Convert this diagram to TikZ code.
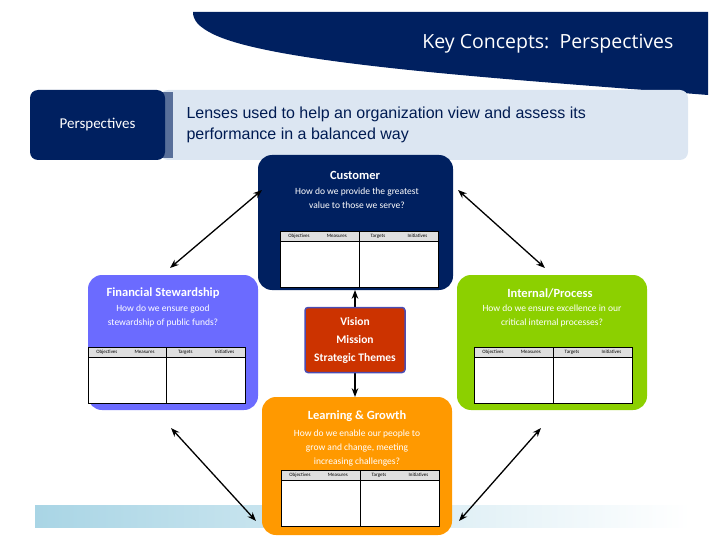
\documentclass[tikz,border=0pt]{standalone}
\usepackage{fontspec}
\setmainfont{Carlito}
\newfontfamily\titlefont{Open Sans}
\newfontfamily\arialfont{Liberation Sans}
\usetikzlibrary{arrows.meta}
\definecolor{navy}{HTML}{002060}
\definecolor{lens}{HTML}{DCE6F2}
\definecolor{violet}{HTML}{6B6BFF}
\definecolor{lime}{HTML}{8CD000}
\definecolor{brick}{HTML}{CC3300}
\definecolor{amber}{HTML}{FF9900}
\definecolor{barblue}{HTML}{A9D5E5}
\tikzset{
 card/.style={rounded corners=14pt, draw=none},
 ttl/.style={text=white, font=\fontsize{12.5}{14}\selectfont\bfseries},
 sub/.style={text=white, font=\fontsize{9.5}{14}\selectfont, align=center},
 tbl/.style={fill=white, draw=black, line width=0.8pt},
 hdr/.style={font=\fontsize{5}{6}\selectfont, inner sep=0pt},
 link/.style={Stealth-Stealth, line width=1.3pt}
}
\newcommand{\kpitable}[3]{% x1, y1(top), width
 \fill[gray!25] (#1,#2) rectangle ++(#3,10);
 \draw[tbl] (#1,#2+10) rectangle ++(#3,46);
 \draw[black,line width=0.6pt] (#1,#2) rectangle ++(#3,56);
 \draw[black,line width=0.8pt] (#1+#3/2,#2) -- ++(0,56);
 \node[hdr] at (#1+#3*0.12,#2+5) {Objectives};
 \node[hdr] at (#1+#3*0.36,#2+5) {Measures};
 \node[hdr] at (#1+#3*0.62,#2+5) {Targets};
 \node[hdr] at (#1+#3*0.87,#2+5) {Initiatives};
}
\begin{document}
\begin{tikzpicture}[x=1pt,y=-1pt]
\useasboundingbox (0,0) rectangle (720,540);
% header
\fill[navy] (193,12) -- (708,12) -- (708,95) .. controls (520,80) and (280,65) .. (215,35) .. controls (198,27) and (193,20) .. (193,12) -- cycle;
\node[text=white, font=\titlefont\fontsize{19.5}{22}\selectfont, anchor=east] (title) at (677,44) {Key Concepts:\ \ Perspectives};
% bottom bar
\shade[left color=barblue, right color=white] (35,505) rectangle (690,527);
% perspectives
\fill[lens, rounded corners=8pt] (160,90) rectangle (688,160);
\fill[navy!60!lens] (160,92) rectangle (173,158);
\node[fill=navy, rounded corners=8pt, minimum width=135pt, minimum height=70pt, text=white, font=\fontsize{15}{17}\selectfont] (persp) at (97.5,125) {Perspectives};
\node[anchor=west, align=left, text=navy!85!black, font=\arialfont\fontsize{16}{21}\selectfont] (lenses) at (183,125) {Lenses used to help an organization view and assess its\\performance in a balanced way};
% cards
\fill[navy, card] (258,155) rectangle (453,290);
\node[ttl] (cust) at (355,175) {Customer};
\node[sub] (custq) at (357,198) {How do we provide the greatest\\value to those we serve?};
\kpitable{280}{231}{158}
\fill[violet, card] (88,275) rectangle (258,410);
\node[ttl] (fin) at (163,293) {Financial Stewardship};
\node[sub] (finq) at (163,316) {How do we ensure good\\stewardship of public funds?};
\kpitable{88}{347}{157}
\fill[lime, card] (457,275) rectangle (647,410);
\node[ttl] (int) at (550,293) {Internal/Process};
\node[sub] (intq) at (552,316) {How do we ensure excellence in our\\critical internal processes?};
\kpitable{474}{347}{158}
\fill[amber, card] (262,397) rectangle (452,535);
\node[ttl] (learn) at (357,416) {Learning \& Growth};
\node[sub] (learnq) at (357,448) {How do we enable our people to\\grow and change, meeting\\increasing challenges?};
\kpitable{281}{470}{158}
% arrows
\coordinate (cb) at (355,290); \coordinate (lt) at (355,397);
\draw[link] (cb) -- (lt);
\coordinate (a1) at (262,190); \coordinate (a2) at (170,268);
\coordinate (b1) at (458,190); \coordinate (b2) at (545,268);
\coordinate (c1) at (171,428); \coordinate (c2) at (256,521);
\coordinate (d1) at (541,428); \coordinate (d2) at (459,521);
\draw[link] (a1) -- (a2);
\draw[link] (b1) -- (b2);
\draw[link] (c1) -- (c2);
\draw[link] (d1) -- (d2);
% center
\node[fill=brick, draw=gray!60!blue, line width=1.5pt, rounded corners=3pt, minimum width=100pt, minimum height=65pt, text=white, align=center, font=\fontsize{11.5}{18}\selectfont\bfseries] (vis) at (355,340) {Vision\\Mission\\Strategic Themes};
\end{tikzpicture}
\end{document}
